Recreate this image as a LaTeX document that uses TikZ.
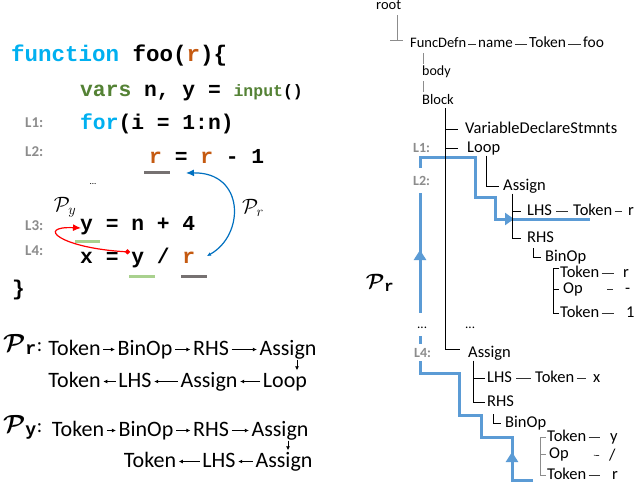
\documentclass[tikz,border=0pt]{standalone}
\usepackage{amsmath}
\usepackage{fontspec}
\setmainfont{Carlito}
\setmonofont{Liberation Mono}
\usetikzlibrary{arrows.meta,calc}
\definecolor{ckw}{HTML}{00B0F0}
\definecolor{cgr}{HTML}{548235}
\definecolor{cor}{HTML}{C55A11}
\definecolor{cul}{HTML}{A9D18E}
\definecolor{cgy}{HTML}{767171}
\definecolor{cbl}{HTML}{0070C0}
\definecolor{cpath}{HTML}{5B9BD5}
\definecolor{clab}{HTML}{8C8C8C}
\begin{document}
\begin{tikzpicture}[x=1pt,y=-1pt,
  code/.style={anchor=base west,inner sep=0pt,font=\fontsize{21.3}{24}\selectfont\ttfamily\bfseries},
  lnum/.style={anchor=base west,inner sep=0pt,font=\fontsize{15}{17}\selectfont\bfseries,text=clab},
  word/.style={anchor=base,inner sep=0pt,font=\fontsize{22}{25}\selectfont,text height=15.5pt,text depth=4.5pt},
  sarr/.style={-{Latex[length=4pt,width=4pt]},line width=0.9pt,shorten <=2.5pt,shorten >=2.5pt},
  tn/.style={anchor=base west,inner sep=0pt,font=\fontsize{16.5}{19}\selectfont,text height=11.5pt,text depth=3.5pt},
  tns/.style={anchor=base west,inner sep=0pt,font=\fontsize{14.5}{17}\selectfont,text height=10pt,text depth=3pt},
  tg/.style={draw=black!45,line width=0.8pt},
  tb/.style={draw=black,line width=0.6pt},
  dsh/.style={draw=black!80,line width=0.7pt,shorten <=2pt,shorten >=2pt},
  bpath/.style={draw=cpath,line width=3pt},
  btip/.style={cpath,line width=3pt,-{Triangle[length=10pt,width=12pt]}},
  tlab/.style={anchor=base west,inner sep=0pt,font=\fontsize{14}{16}\selectfont\bfseries,text=clab},
  mlab/.style={inner sep=0pt,font=\fontsize{21}{24}\selectfont},
  plab/.style={anchor=base west,inner sep=0pt,font=\fontsize{26}{30}\selectfont},
]
\fill[white] (0,0) rectangle (636,484);
\useasboundingbox (0,0) rectangle (636,484);

% ---------------- code ----------------
\node[code,font=\fontsize{22.5}{26}\selectfont\ttfamily\bfseries] (c1) at (11,62) {\textcolor{ckw}{function} foo(\textcolor{cor}{r})\{};
\node[code] (c2) at (80,97) {\textcolor{cgr}{vars} n, y = {\fontsize{16.5}{20}\selectfont\textcolor{cgr}{input}()}};
\node[code] (c3) at (80,129) {\textcolor{ckw}{for}(i = 1:n)};
\node[code] (c4) at (149,163) {\textcolor{cor}{r} = \textcolor{cor}{r} - 1};
\node[inner sep=0pt,font=\fontsize{9}{10}\selectfont] (cdots) at (93,184) {...};
\node[code] (c5) at (80,230) {y = n + 4};
\node[code] (c6) at (80,263) {x = y / \textcolor{cor}{r}};
\node[code] (c7) at (12,295) {\}};

\node[lnum] (l1) at (25,127) {L1:};
\node[lnum] (l2) at (25,156) {L2:};
\node[lnum] (l3) at (25,230) {L3:};
\node[lnum] (l4) at (25,255) {L4:};

\draw[line width=3pt,cgy] (144,172) -- (170,172);
\draw[line width=3pt,cul] (75,241) -- (100,241);
\draw[line width=3pt,cul] (129,276) -- (155,276);
\draw[line width=3pt,cgy] (181,276) -- (207,276);

\coordinate (prs) at (207,256);
\coordinate (pre) at (186,173);
\draw[cbl,line width=1.2pt,{Latex[length=4pt,width=4pt]}-{Latex[length=8pt,width=7pt]}] (prs) .. controls (245,235) and (245,172) .. (pre);
\node[mlab,font=\fontsize{21}{24}\selectfont] (lpr) at (253,208) {$\mathcal{P}_r$};

\coordinate (pys) at (130,252);
\coordinate (pye) at (81,228);
\draw[red,line width=1.2pt,{Circle[length=5pt]}-{Latex[length=8pt,width=7pt]}] (pys) .. controls (60,248) and (35,226) .. (pye);
\node[mlab,font=\fontsize{21}{24}\selectfont] (lpy) at (65,207) {$\mathcal{P}_y$};

% ---------------- path summaries ----------------
\node[plab] (pra) at (3,351) {$\boldsymbol{\mathcal{P}}_{\texttt{\textbf{r}}}$\fontsize{20}{24}\selectfont:};
\node[word] (ra1) at (74.5,355) {Token};
\node[word] (ra2) at (145,355) {BinOp};
\node[word] (ra3) at (211,355) {RHS};
\node[word] (ra4) at (288,355) {Assign};
\node[word] (rb1) at (74.5,387) {Token};
\node[word] (rb2) at (135,387) {LHS};
\node[word] (rb3) at (209,387) {Assign};
\node[word] (rb4) at (285,387) {Loop};
\draw[sarr] (ra1) -- (ra2);
\draw[sarr] (ra2) -- (ra3);
\draw[sarr] (ra3) -- (ra4);
\draw[sarr,shorten <=0pt,shorten >=1pt] ([xshift=9pt]ra4.south) -- ([xshift=9pt]ra4.south |- rb4.north);
\draw[sarr] (rb4) -- (rb3);
\draw[sarr] (rb3) -- (rb2);
\draw[sarr] (rb2) -- (rb1);

\node[plab] (pya) at (3,432) {$\boldsymbol{\mathcal{P}}_{\texttt{\textbf{y}}}$\fontsize{20}{24}\selectfont:};
\node[word] (ya1) at (78,436) {Token};
\node[word] (ya2) at (146,436) {BinOp};
\node[word] (ya3) at (211,436) {RHS};
\node[word] (ya4) at (280,436) {Assign};
\node[word] (yb1) at (150,467) {Token};
\node[word] (yb2) at (219,467) {LHS};
\node[word] (yb3) at (284,467) {Assign};
\draw[sarr] (ya1) -- (ya2);
\draw[sarr] (ya2) -- (ya3);
\draw[sarr] (ya3) -- (ya4);
\draw[sarr,shorten <=0pt,shorten >=1pt] ([xshift=8pt]ya4.south) -- ([xshift=8pt]ya4.south |- yb3.north);
\draw[sarr] (yb3) -- (yb2);
\draw[sarr] (yb2) -- (yb1);

% ---------------- blue AST path ----------------
\draw[bpath] (533,480) -- (512,480) -- (512,437) -- (481,437) -- (481,415) -- (459,415) -- (459,373) -- (420,373) -- (420,157) -- (475,157) -- (475,197) -- (495,197) -- (495,219) -- (590,219);
\draw[btip] (420,268) -- (420,250);
\draw[btip] (512,470) -- (512,452);
\draw[btip,-{Triangle[length=9pt,width=12pt]}] (497,219) -- (514,219);
\node[mlab,font=\fontsize{22}{26}\selectfont] (tpr) at (380,283) {$\boldsymbol{\mathcal{P}}_{\texttt{\textbf{r}}}$};

% ---------------- AST ----------------
\node[tns] (root) at (376,10) {root};
\node[tns] (fd) at (410,48) {FuncDefn};
\node[tns,font=\fontsize{15}{17}\selectfont] (nm) at (478,48) {name};
\node[tns,font=\fontsize{15.5}{17}\selectfont] (tk0) at (529,48) {Token};
\node[tns,font=\fontsize{15.5}{17}\selectfont] (foo) at (583,48) {foo};
\node[tns,font=\fontsize{14}{17}\selectfont] (bd) at (422,76) {body};
\node[tns] (bk) at (422,105) {Block};
\node[tn] (vds) at (465,133) {VariableDeclareStmnts};
\node[tlab] (tl1) at (413,152) {L1:};
\node[tn] (lp) at (467,152) {Loop};
\node[tlab,fill=white,inner ysep=8pt,inner xsep=1pt] (tl2) at (412,185) {L2:};
\node[tn] (as1) at (503,190) {Assign};
\node[tn] (lhs1) at (527,215) {LHS};
\node[tn] (tk1) at (573,215) {Token};
\node[tn] (v1) at (628,215) {r};
\node[tn] (rhs1) at (527,242) {RHS};
\node[tn] (bo1) at (545,261) {BinOp};
\node[tn] (t3) at (560,277) {Token};
\node[tn] (v3) at (623,277) {r};
\node[tn] (op1) at (563,293) {Op};
\node[tn] (v4) at (625,293) {-};
\node[tn] (t5) at (560,317) {Token};
\node[tn] (v5) at (626,317) {1};
\node[tn,font=\fontsize{13}{15}\selectfont,fill=white,inner ysep=4pt,inner xsep=1pt] (tdl) at (416,328) {...};
\node[tn,font=\fontsize{13}{15}\selectfont] (tdr) at (465,328) {...};
\node[tlab,fill=white,inner ysep=4pt,inner xsep=1pt] (tl4) at (413,357) {L4:};
\node[tn] (as2) at (468,357) {Assign};
\node[tn] (lhs2) at (487,382) {LHS};
\node[tn] (tk2) at (535,382) {Token};
\node[tn] (vx) at (593,382) {x};
\node[tn] (rhs2) at (487,406) {RHS};
\node[tn] (bo2) at (505,427) {BinOp};
\node[tn] (t6) at (547,441) {Token};
\node[tn] (vy) at (610,441) {y};
\node[tn] (op2) at (549,458) {Op};
\node[tn] (vsl) at (609,460) {/};
\node[tn] (t8) at (547,479) {Token};
\node[tn] (vr) at (612,479) {r};

% connectors
\coordinate (j0) at (397,40);
\draw[tg,shorten <=2pt] (root.south -| j0) -- (j0);
\draw[tg] ([xshift=-7pt]j0) -- ([xshift=6pt]j0);
\coordinate (j1) at (423,0);
\draw[tg,shorten <=2pt,shorten >=2pt] (fd.south -| j1) -- (bd.north -| j1);
\draw[tg,shorten <=2pt,shorten >=3pt] (bd.south -| j1) -- (bk.north -| j1);
\draw[dsh] (fd) -- (nm);
\draw[dsh] (nm) -- (tk0);
\draw[dsh] (tk0) -- (foo);

\coordinate (j2) at (445,0);
\coordinate (j2e) at (445,349);
\draw[tb] (bk.south -| j2) -- (j2e) -- ([xshift=-8pt]as2.west |- j2e);
\draw[tb] (vds.west -| j2) -- ([xshift=-7pt]vds.west);
\draw[tb] (lp.west -| j2) -- ([xshift=-9pt]lp.west);
\coordinate (j3) at (486,0);
\draw[tb] (lp.south -| j3) -- (as1.west -| j3) -- ([xshift=-4pt]as1.west);
\coordinate (j4) at (512,0);
\draw[tb] (as1.south -| j4) -- (rhs1.west -| j4) -- ([xshift=-6pt]rhs1.west);
\draw[tb] (lhs1.west -| j4) -- ([xshift=-6pt]lhs1.west);
\coordinate (j5) at (533,0);
\draw[tb] (bo1.west -| j5) ++(0,-9) -- (bo1.west -| j5) -- ([xshift=-4pt]bo1.west);
\coordinate (j6) at (553,0);
\draw[tb] ([xshift=-1pt,yshift=5pt]t3.west) -- ([yshift=5pt]t3.west -| j6) -- (t5.west -| j6) -- ([xshift=-1pt]t5.west);
\draw[tb] (op1.west -| j6) -- ([xshift=-4pt]op1.west);
\draw[dsh,shorten <=4pt,shorten >=5pt] (lhs1) -- (tk1);
\draw[dsh,shorten >=6pt] (tk1) -- (v1);
\draw[dsh,shorten >=9pt] (t3) -- (v3);
\draw[dsh,shorten <=24pt,shorten >=12pt] (op1) -- (v4);
\draw[dsh,shorten >=12pt] (t5) -- (v5);

\coordinate (j7) at (473,0);
\draw[tb] (as2.south -| j7) -- (rhs2.west -| j7) -- ([xshift=-2pt]rhs2.west);
\draw[tb] (lhs2.west -| j7) -- ([xshift=-2pt]lhs2.west);
\coordinate (j8) at (493,0);
\draw[tb] (bo2.west -| j8) ++(0,-9) -- (bo2.west -| j8) -- ([xshift=-4pt]bo2.west);
\coordinate (j9) at (540,0);
\draw[tg] ([xshift=-1pt]t6.west) -- (t6.west -| j9) -- (t8.west -| j9) -- ([xshift=-1pt]t8.west);
\draw[tg] (op2.west -| j9) -- ([xshift=-3pt]op2.west);
\draw[dsh,shorten <=4pt,shorten >=4pt] (lhs2) -- (tk2);
\draw[dsh,shorten >=7pt] (tk2) -- (vx);
\draw[dsh,shorten >=10pt] (t6) -- (vy);
\draw[dsh,shorten <=25pt,shorten >=10pt] (op2) -- (vsl);
\draw[dsh,shorten >=12pt] (t8) -- (vr);
\end{tikzpicture}
\end{document}
